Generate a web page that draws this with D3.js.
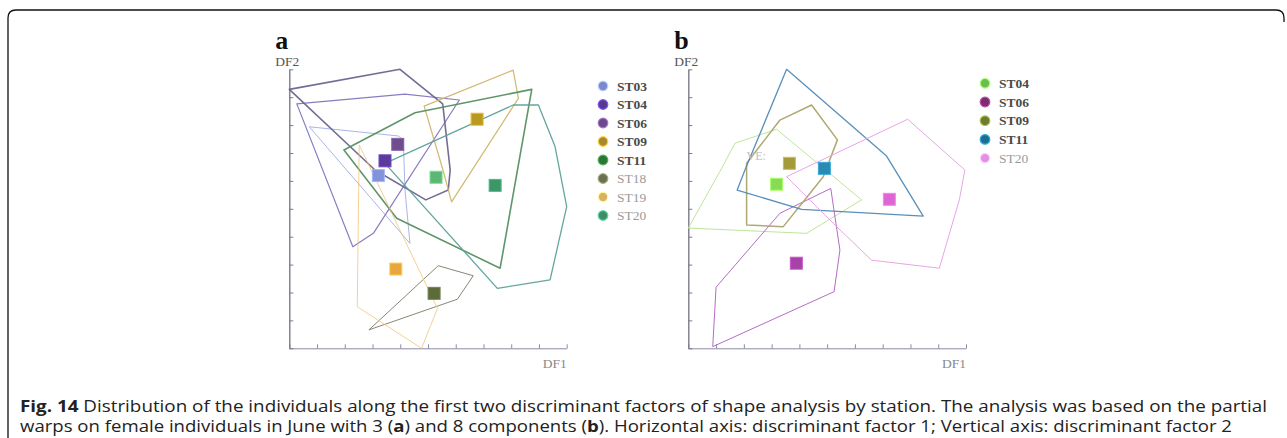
<!DOCTYPE html>
<html><head><meta charset="utf-8">
<script src="https://cdn.jsdelivr.net/npm/d3@7/dist/d3.min.js"></script>
<style>body{margin:0;background:#fff}svg{display:block}</style>
</head><body><svg id="c" width="1287" height="438"></svg>
<script>
// ---------- data ----------
const tickValues = d3.range(0, 11);

// Panel a (3 components)
const stationsA = ["ST03","ST04","ST06","ST09","ST11","ST18","ST19","ST20"];
const centroidsA = [[3.21,6.19],[3.45,6.72],[3.91,7.31],[6.77,8.21],[5.29,6.13],[5.22,1.97],[3.84,2.84],[7.42,5.84]];
const hullsA = [
  [[0.72,7.94],[3.93,7.61],[4.11,7.47],[4.17,5.67],[4.35,3.76]],                       // ST03
  [[0.27,8.76],[4.17,9.11],[6.13,8.90],[3.03,4.12],[2.29,3.64]],                       // ST04
  [[0.00,9.28],[3.99,10.0],[5.53,8.76],[5.80,6.39],[5.73,5.67],[4.92,5.32],[3.09,6.39]], // ST06
  [[4.86,8.68],[8.07,9.97],[8.26,8.96],[5.85,5.25],[5.54,6.39]],                       // ST09
  [[1.97,7.11],[4.53,8.44],[8.74,9.28],[7.60,2.87],[3.87,4.66]],                       // ST11
  [[2.87,0.66],[5.37,2.96],[6.63,2.60],[6.06,1.76]],                                   // ST18
  [[2.52,7.29],[2.45,1.49],[4.77,0.00],[5.34,1.43]],                                   // ST19
  [[3.45,6.63],[8.07,8.72],[8.98,8.72],[9.58,7.23],[10.0,5.08],[9.40,2.45],[7.50,2.15]]  // ST20
];
const legendColorsA = ["#7b88cc","#573a96","#6c4a86","#a8892c","#2f7337","#6b7052","#d9b066","#3f8c68"];
const squareColorsA = ["#8293da","#5b3a9c","#6e4f8c","#bb981f","#5cb674","#5d6b3a","#e8a63e","#3b9866"];
const lineColorsA   = ["#9aa8e4","#8474bf","#6c6590","#cfb468","#578f62","#80806e","#efc272","#5aa198"];
const lineWidthsA   = [0.9,1.2,1.6,1.2,1.6,1.0,0.8,1.3];

// Panel b (8 components)
const stationsB = ["ST04","ST06","ST09","ST11","ST20"];
const centroidsB = [[3.18,5.88],[3.89,3.05],[3.64,6.63],[4.90,6.45],[7.24,5.34]];
const hullsB = [
  [[0.00,4.31],[1.20,6.45],[1.68,7.35],[3.18,7.85],[6.24,5.32],[4.26,4.12]],             // ST04
  [[0.88,0.06],[1.00,2.19],[3.30,4.84],[5.13,5.73],[5.46,3.52],[5.25,2.03]],             // ST06
  [[2.10,6.63],[3.30,8.18],[4.44,8.72],[5.37,7.47],[4.86,6.15],[3.42,4.36],[2.10,4.42]], // ST09
  [[3.54,10.0],[7.14,6.89],[8.46,4.74],[4.08,4.98],[1.76,5.67],[2.04,6.39]],             // ST11
  [[7.90,8.21],[9.96,6.39],[9.76,5.32],[9.04,2.87],[6.60,3.16],[5.34,4.36],[3.54,6.15]]  // ST20
];
const legendColorsB = ["#6cbf4c","#7a2f6c","#6f7a2e","#1d6e8e","#e38fe2"];
const squareColorsB = ["#88dc55","#a544a6","#a39a3c","#2b8ab0","#dd66d2"];
const lineColorsB   = ["#b8e496","#b064c2","#aaa468","#4f8ab6","#e6a0e4"];
const lineWidthsB   = [1.0,1.0,1.5,1.3,1.0];
const artifactLabelB = [{text:"VE:", pos:[2.10,6.75]}];

const captionLine1 = [["Fig. 14",true],[" Distribution of the individuals along the first two discriminant factors of shape analysis by station. The analysis was based on the partial",false]];
const captionLine2 = [["warps on female individuals in June with 3 (",false],["a",true],[") and 8 components (",false],["b",true],["). Horizontal axis: discriminant factor 1; Vertical axis: discriminant factor 2",false]];

// ---------- drawing ----------
const svg = d3.select("#c");

// frame
svg.append("path")
  .attr("d","M8,438 L8,18 Q8,10 16,10 L1276,10 Q1284,10 1284,18 L1284,22")
  .attr("fill","none").attr("stroke","#111").attr("stroke-width",1.3);

function panel(cfg){
  const x = d3.scaleLinear([0,10],cfg.xr);
  const y = d3.scaleLinear([0,10],[348.3,69.3]);
  const g = svg.append("g");

  // axes
  const ax = g.append("g").attr("transform",`translate(0,${y(0)})`)
    .call(d3.axisBottom(x).tickValues(tickValues).tickSize(-4).tickSizeOuter(0).tickFormat(""));
  const ay = g.append("g").attr("transform",`translate(${x(0)},0)`)
    .call(d3.axisLeft(y).tickValues(tickValues).tickSize(-4).tickSizeOuter(0).tickFormat(""));
  ax.selectAll("path,line").attr("stroke","#8a8aa6").attr("stroke-width",1);
  ay.selectAll("path").attr("stroke","#7a7a88").attr("stroke-width",1.4);
  ay.selectAll("line").attr("stroke","#7a7a88").attr("stroke-width",1);

  // hulls
  const line = d3.line().x(d=>x(d[0])).y(d=>y(d[1])).curve(d3.curveLinearClosed);
  g.selectAll("path.hull").data(cfg.hulls).join("path").attr("class","hull")
    .attr("d",line).attr("fill","none")
    .attr("stroke",(d,i)=>cfg.lineColors[i]).attr("stroke-width",(d,i)=>cfg.lineWidths[i])
    .attr("stroke-linejoin","round").attr("opacity",0.95);

  // centroid squares
  const s = 12;
  g.selectAll("rect.c").data(cfg.centroids).join("rect").attr("class","c")
    .attr("x",d=>x(d[0])-s/2).attr("y",d=>y(d[1])-s/2).attr("width",s).attr("height",s)
    .attr("fill",(d,i)=>cfg.squareColors[i]).attr("stroke",(d,i)=>d3.color(cfg.squareColors[i]).brighter(0.6)).attr("stroke-width",1);

  // labels
  g.append("text").attr("x",x(0)-14).attr("y",48.5).text(cfg.letter)
    .attr("font-family","Liberation Serif, serif").attr("font-weight","bold").attr("font-size",26).attr("fill","#111");
  g.append("text").attr("x",x(0)-14).attr("y",65.5).text("DF2")
    .attr("font-family","Liberation Serif, serif").attr("font-size",13.5).attr("fill","#555");
  g.append("text").attr("x",x(10)).attr("y",368).attr("text-anchor","end").text("DF1")
    .attr("font-family","Liberation Serif, serif").attr("font-size",13.5).attr("fill","#888");

  // legend
  const lg = g.append("g");
  cfg.stations.forEach((st,i)=>{
    const cy = cfg.legY0 + i*cfg.legDy;
    lg.append("circle").attr("cx",cfg.legX).attr("cy",cy).attr("r",4.8)
      .attr("fill",cfg.legendColors[i]).attr("stroke",d3.color(cfg.legendColors[i]).brighter(1.2)).attr("stroke-width",1.2);
    const dark = i < cfg.darkCount;
    lg.append("text").attr("x",cfg.legX+14).attr("y",cy+4.5).text(st)
      .attr("font-family","Liberation Serif, serif").attr("font-size",13.5)
      .attr("font-weight",dark?"bold":"normal").attr("fill",dark?"#4a4a4a":"#9a9a9a");
  });
  return {x,y,g};
}

const pa = panel({xr:[289.3,566.7],hulls:hullsA,centroids:centroidsA,stations:stationsA,
  lineColors:lineColorsA,lineWidths:lineWidthsA,squareColors:squareColorsA,legendColors:legendColorsA,
  letter:"a",legX:603,legY0:86,legDy:18.5,darkCount:5});
const pb = panel({xr:[688.3,966],hulls:hullsB,centroids:centroidsB,stations:stationsB,
  lineColors:lineColorsB,lineWidths:lineWidthsB,squareColors:squareColorsB,legendColors:legendColorsB,
  letter:"b",legX:985,legY0:83.3,legDy:18.7,darkCount:4});

artifactLabelB.forEach(a=>{
  pb.g.append("text").attr("x",pb.x(a.pos[0])).attr("y",pb.y(a.pos[1])).text(a.text)
    .attr("font-family","Liberation Serif, serif").attr("font-size",12).attr("fill","#c0c0c0");
});

// caption
function captionLine(parts,yb,len){
  const t = svg.append("text").attr("x",20).attr("y",yb)
    .attr("font-family","Open Sans, sans-serif").attr("font-size",15.5).attr("fill","#222")
    .attr("textLength",len).attr("lengthAdjust","spacingAndGlyphs");
  parts.forEach(p=>t.append("tspan").text(p[0]).attr("font-weight",p[1]?"bold":"normal"));
}
captionLine(captionLine1,412,1247);
captionLine(captionLine2,432,1212);
</script></body></html>
